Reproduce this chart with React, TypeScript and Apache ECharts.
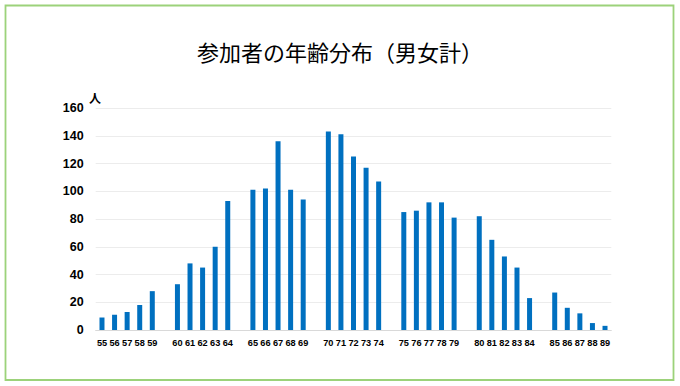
import React, { useEffect, useRef } from "react";
import * as echarts from "echarts";

const ages: string[] = [
  "55", "56", "57", "58", "59", "",
  "60", "61", "62", "63", "64", "",
  "65", "66", "67", "68", "69", "",
  "70", "71", "72", "73", "74", "",
  "75", "76", "77", "78", "79", "",
  "80", "81", "82", "83", "84", "",
  "85", "86", "87", "88", "89",
];

const counts: (number | null)[] = [
  9, 11, 13, 18, 28, null,
  33, 48, 45, 60, 93, null,
  101, 102, 136, 101, 94, null,
  143, 141, 125, 117, 107, null,
  85, 86, 92, 92, 81, null,
  82, 65, 53, 45, 23, null,
  27, 16, 12, 5, 3,
];

const yTicks = { min: 0, max: 160, interval: 20 };
const titleText = "参加者の年齢分布（男女計）";
const yUnit = "人";

export default function App() {
  const ref = useRef<HTMLDivElement>(null);
  useEffect(() => {
    if (!ref.current) return;
    const chart = echarts.init(ref.current, undefined, { renderer: "svg" });
    chart.setOption({
      animation: false,
      backgroundColor: "#ffffff",
      title: {
        text: titleText,
        left: "center",
        top: 35,
        textStyle: {
          fontFamily: "'Noto Sans CJK JP', sans-serif",
          fontSize: 22,
          fontWeight: "normal",
          color: "#000000",
        },
      },
      graphic: [
        {
          type: "rect",
          shape: { x: 5.5, y: 5.5, width: 668, height: 374.5 },
          style: { fill: "none", stroke: "#9CD27A", lineWidth: 1.8 },
          silent: true,
        },
        {
          type: "text",
          left: 89,
          top: 91,
          style: {
            text: yUnit,
            font: "bold 12px 'Noto Sans CJK JP', sans-serif",
            fill: "#000000",
          },
          silent: true,
        },
      ],
      grid: { left: 95.7, right: 68.7, top: 108, bottom: 56, containLabel: false },
      xAxis: {
        type: "category",
        data: ages,
        axisTick: { show: false },
        axisLine: { show: true, lineStyle: { color: "#d9d9d9" } },
        axisLabel: {
          interval: 0,
          margin: 8,
          fontSize: 9.2,
          fontWeight: "bold",
          fontFamily: "'Liberation Sans', Arial, sans-serif",
          color: "#000000",
        },
      },
      yAxis: {
        type: "value",
        min: yTicks.min,
        max: yTicks.max,
        interval: yTicks.interval,
        axisLine: { show: false },
        axisTick: { show: false },
        splitLine: { lineStyle: { color: "#ececec" } },
        axisLabel: {
          margin: 12,
          fontSize: 12.5,
          fontWeight: "bold",
          fontFamily: "'Liberation Sans', Arial, sans-serif",
          color: "#000000",
        },
      },
      series: [
        {
          type: "bar",
          data: counts,
          barWidth: 5,
          itemStyle: { color: "#0070C0" },
        },
      ],
    });
    return () => chart.dispose();
  }, []);
  return (
    <div
      ref={ref}
      style={{ position: "fixed", left: 0, top: 0, width: 680, height: 386 }}
    />
  );
}
